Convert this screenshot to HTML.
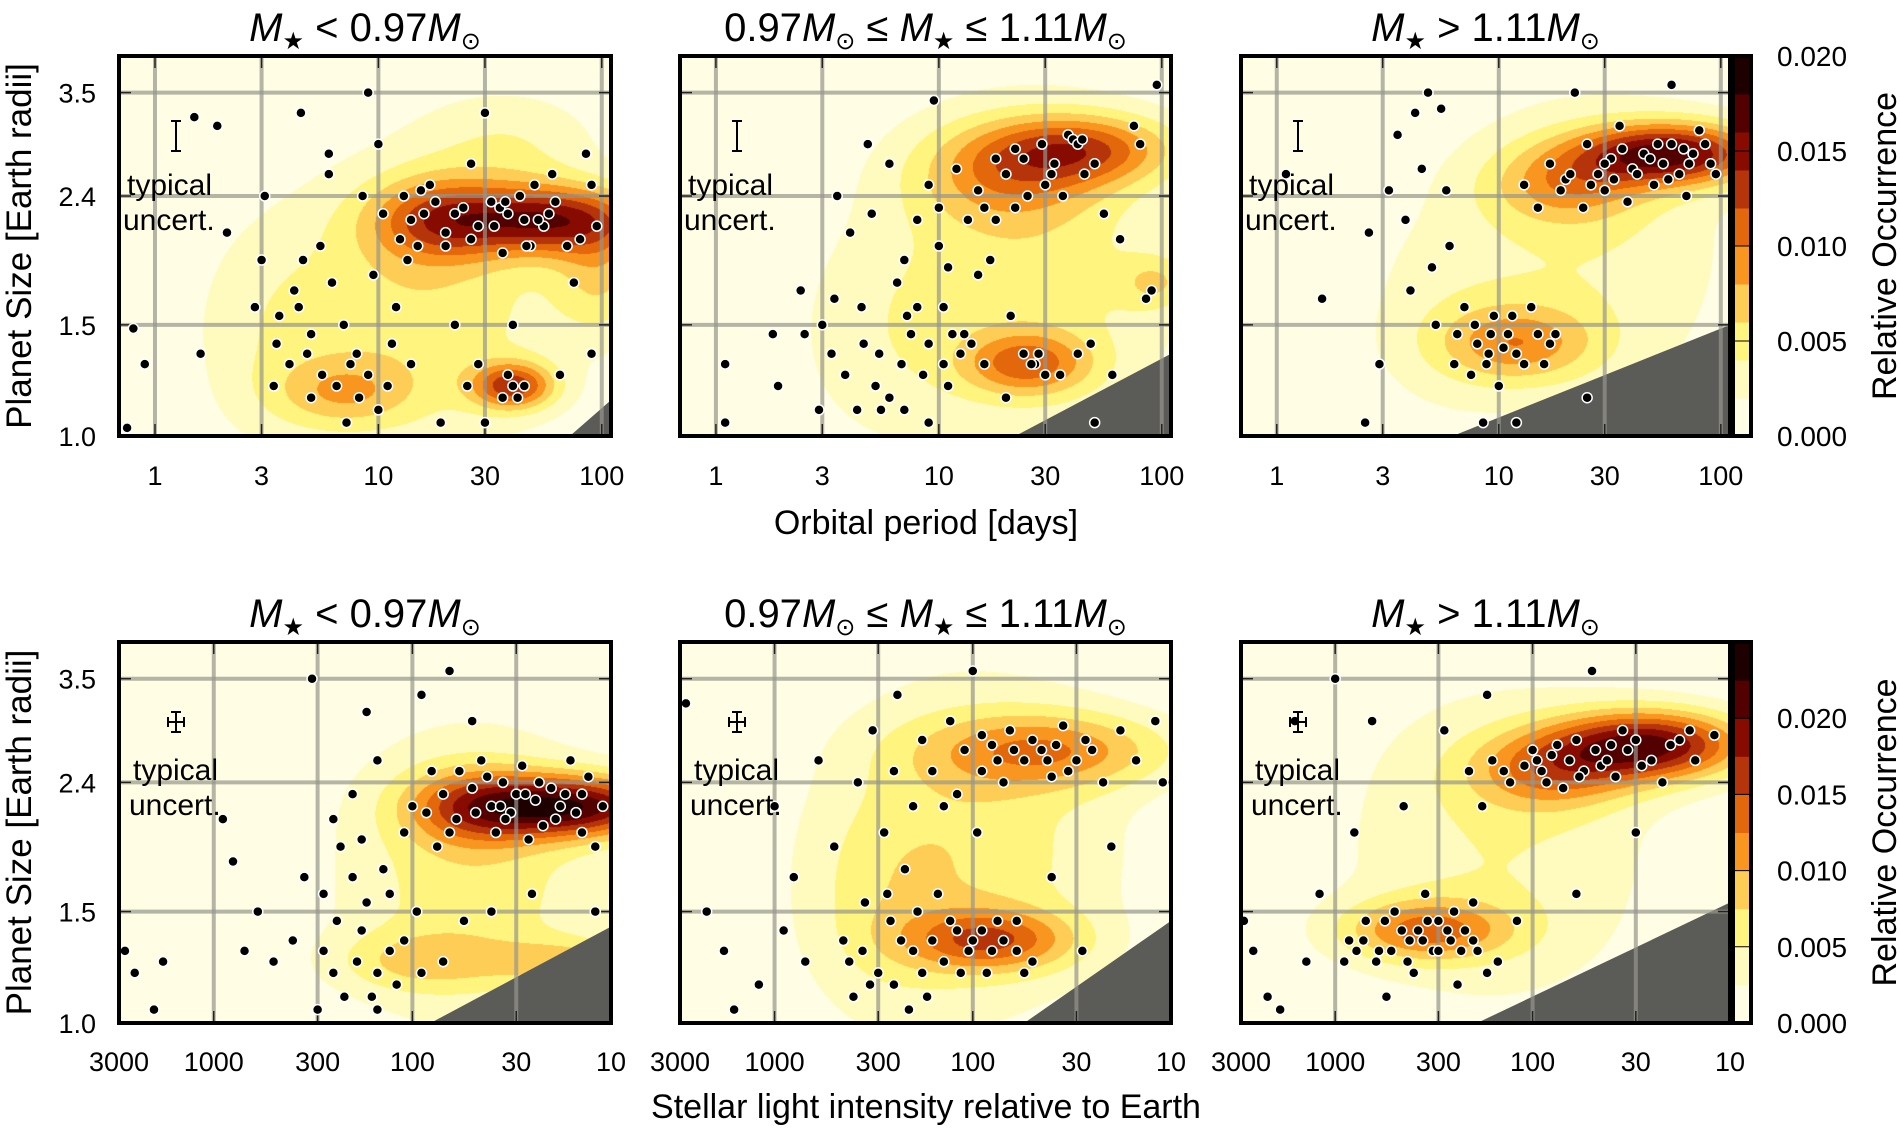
<!DOCTYPE html>
<html><head><meta charset="utf-8"><style>
html,body{margin:0;padding:0;background:#fff;}
#wrap{position:relative;width:1900px;height:1129px;overflow:hidden;}
canvas,svg{position:absolute;left:0;top:0;}
text{font-family:"Liberation Sans",sans-serif;fill:#000;}
</style></head><body>
<div id="wrap">
<canvas id="cv" width="1900" height="1129"></canvas>
<svg id="sv" width="1900" height="1129" xmlns="http://www.w3.org/2000/svg"></svg>
</div>
<script>
// ---- data ----
const periodTicks = [1, 3, 10, 30, 100];
const fluxTicks = [3000, 1000, 300, 100, 30, 10];
const radiusTicks = [1.0, 1.5, 2.4, 3.5];
const radiusTickLabels = ["1.0", "1.5", "2.4", "3.5"];
const cbTicksTop = [0, 0.005, 0.010, 0.015, 0.020];
const cbTicksBottom = [0, 0.005, 0.010, 0.015, 0.020];
const levelColors = ["#fffde4","#fffbbe","#fff47e","#fdcd56","#f8961f","#e3670b","#b6340a","#880b00","#530000","#1e0000"];
const titles = ["low", "mid", "high"];

// density blobs: [x value, radius, amplitude, sigma (decades), sigma (ln R)]
const blobsTL = [[15,1.6,0.0055,0.5,0.38],[60,2.2,0.013,0.3,0.09],[18,2.2,0.008,0.22,0.11],[40,1.2,0.011,0.13,0.06],[7,1.17,0.005,0.22,0.09],[100,1.8,0.005,0.15,0.15],[3,1.4,0.002,0.25,0.3],[40,2.9,0.003,0.3,0.15]];
const blobsTM = [[25,1.8,0.005,0.5,0.45],[45,2.85,0.009,0.3,0.09],[20,2.6,0.006,0.3,0.13],[25,1.3,0.008,0.2,0.08],[95,1.75,0.004,0.12,0.07],[5,1.4,0.002,0.3,0.3]];
const blobsTR = [[25,2.0,0.0038,0.5,0.45],[60,2.8,0.015,0.3,0.08],[20,2.5,0.006,0.25,0.1],[12,1.4,0.007,0.25,0.1],[5,1.5,0.0018,0.3,0.3]];
const blobsBL = [[50,1.7,0.0065,0.5,0.4],[15,2.2,0.019,0.35,0.08],[50,2.2,0.009,0.25,0.1],[15,1.25,0.006,0.3,0.06],[100,1.25,0.005,0.3,0.08]];
const blobsBM = [[100,1.9,0.0065,0.55,0.45],[40,2.7,0.0095,0.45,0.1],[80,1.35,0.011,0.3,0.08],[300,1.5,0.003,0.3,0.3]];
const blobsBR = [[150,1.9,0.005,0.6,0.45],[25,2.75,0.019,0.35,0.09],[80,2.5,0.009,0.3,0.1],[350,1.4,0.011,0.3,0.08]];

// completeness-limit triangle: [x at bottom edge, radius at right edge]
const limitsTop = [[72,1.14],[22,1.35],[6.2,1.5]];
const limitsBottom = [[81,1.42],[55,1.45],[191,1.55]];

// planets [x value, radius]
const ptsTL = [[0.75,1.03],[0.9,1.3],[0.8,1.48],[1.5,3.2],[1.9,3.1],[2.1,2.1],[1.6,1.35],[2.8,1.6],[3.1,2.4],[3.0,1.9],[3.5,1.4],[4.2,1.7],[4.5,3.25],[4.8,1.35],[5.5,2.0],[6,2.8],[6.5,1.2],[7,1.5],[7.2,1.05],[8,1.35],[8.5,2.4],[9,3.5],[9.5,1.8],[10.5,2.25],[10,2.9],[11,1.2],[12,1.6],[13,2.4],[13.5,1.9],[15,2.0],[16,2.25],[17,2.5],[19,1.05],[20,2.1],[22,1.5],[24,2.3],[26,2.7],[28,2.15],[30,3.25],[32,2.35],[35,2.3],[36,1.95],[38,2.25],[40,1.2],[42,1.15],[45,2.2],[48,2.0],[50,2.5],[55,2.15],[60,2.6],[65,1.25],[70,2.0],[75,1.75],[80,2.05],[85,2.8],[90,2.5],[95,2.15],[30,1.05],[40,1.5],[90,1.35],[14,1.3],[5,1.15],[25,1.2],
 [3.6,1.55],[4,1.3],[4.4,1.6],[5,1.45],[5.6,1.25],[6.2,1.75],[7.5,1.3],[8.2,1.15],[9,1.25],[10,1.1],[11.5,1.4],[12.5,2.05],[14,2.2],[15.5,2.45],[18,2.35],[20,2.0],[22,2.25],[26,2.05],[33,2.15],[37,2.35],[43,2.4],[46,2.0],[52,2.2],[58,2.25],[62,2.35],[36,1.15],[45,1.2],[38,1.25],[28,1.3],[6,2.6],[4.6,1.9],[3.4,1.2]];
const ptsTM = [[1.1,1.3],[1.1,1.05],[1.8,1.45],[1.9,1.2],[2.4,1.7],[2.5,1.45],[2.9,1.1],[3,1.5],[3.3,1.35],[3.4,1.65],[3.5,2.4],[4,2.1],[4.3,1.1],[4.5,1.6],[4.8,2.9],[5,2.25],[5.4,1.35],[5.5,1.1],[6,2.7],[6.5,1.75],[7,1.9],[7.5,1.45],[8,2.2],[8.5,1.25],[9,2.5],[9.5,3.4],[10,2.0],[10.5,1.6],[11,1.2],[12,2.65],[13,1.45],[13.5,2.2],[15,2.45],[16,1.3],[17,1.9],[18,2.75],[20,1.15],[21,1.55],[22,2.85],[24,1.35],[25,2.4],[27,1.3],[29,2.9],[30,2.5],[32,2.6],[35,1.25],[38,3.0],[40,2.95],[42,1.35],[45,2.6],[48,1.4],[55,2.25],[60,1.25],[65,2.05],[75,3.1],[80,2.9],[90,1.7],[95,3.6],[85,1.65],[50,1.05],
 [3.8,1.25],[4.6,1.4],[5.2,1.2],[6,1.15],[6.8,1.3],[7.2,1.55],[8,1.6],[9,1.4],[10.5,1.3],[11.5,1.45],[12.5,1.35],[14,1.4],[15,1.8],[16,2.3],[18,2.2],[20,2.6],[22,2.3],[24,2.75],[26,1.3],[28,1.35],[30,1.25],[33,2.7],[36,2.4],[42,2.9],[44,2.95],[50,2.7],[10,2.3],[11,1.85],[9,1.05],[7,1.1]];
const ptsTR = [[1.1,2.6],[1.6,1.65],[2.5,1.05],[2.6,2.1],[2.9,1.3],[3.2,2.45],[3.5,3.0],[3.8,2.2],[4,1.7],[4.2,3.25],[4.5,2.65],[5,1.85],[5.2,1.5],[5.5,3.3],[6,2.0],[6.3,1.3],[6.5,1.45],[7,1.6],[7.5,1.25],[8,1.4],[8.5,1.05],[9,1.35],[9.5,1.55],[10,1.2],[11,1.45],[12,1.35],[13,2.5],[14,1.6],[15,2.3],[16,1.3],[17,2.7],[18,1.45],[20,2.55],[22,3.5],[24,2.3],[25,2.9],[28,2.6],[30,2.45],[32,2.75],[35,3.1],[38,2.35],[40,2.65],[45,2.8],[50,2.5],[55,2.7],[60,2.9],[65,2.6],[70,2.4],[75,2.8],[80,3.05],[90,2.7],[60,3.6],[12,1.05],[25,1.15],
 [7.8,1.5],[8.8,1.3],[9.2,1.45],[10.5,1.38],[11.5,1.55],[13,1.3],[15,1.45],[17,1.4],[19,2.45],[21,2.6],[26,2.5],[30,2.7],[33,2.55],[36,2.85],[42,2.6],[48,2.75],[52,2.9],[58,2.55],[68,2.85],[72,2.7],[85,2.9],[95,2.6],[4.8,3.5],[5.8,2.45]];
const ptsBL = [[2800,1.3],[2500,1.2],[2000,1.05],[1800,1.25],[900,2.1],[800,1.8],[700,1.3],[600,1.5],[500,1.25],[400,1.35],[350,1.7],[320,3.5],[300,1.05],[280,1.6],[250,1.2],[230,1.9],[200,2.3],[180,1.4],[170,3.1],[160,1.1],[150,2.6],[140,1.75],[130,1.3],[120,1.15],[110,2.0],[100,2.2],[95,1.5],[90,3.3],[80,2.5],[75,1.9],[70,1.25],[65,3.6],[60,2.1],[55,1.45],[50,2.35],[45,2.6],[40,2.2],[38,2.0],[35,2.4],[32,2.15],[30,2.3],[28,2.55],[26,1.95],[24,2.25],[22,2.05],[20,2.35],[18,2.2],[16,2.6],[15,2.15],[14,2.0],[13,2.45],[12,1.9],[11,2.2],
 [40,1.5],[25,1.6],[12,1.5],[50,3.0],[150,1.05],[280,1.3],[240,1.45],[220,1.1],[190,1.25],[170,1.55],[150,1.2],[130,1.6],[110,1.35],[90,1.2],[85,2.15],[70,2.3],[65,2.0],[58,2.5],[48,2.15],[42,2.45],[36,2.2],[34,2.1],[27,2.3],[23,2.4],[19,2.1],[17,2.3],[14,2.3],[250,2.1],[200,1.7],[180,1.95]];
const ptsBM = [[2800,3.2],[2200,1.5],[1800,1.3],[1600,1.05],[1200,1.15],[1000,2.2],[900,1.4],[800,1.7],[700,1.25],[600,2.6],[500,1.9],[450,1.35],[400,1.1],[380,2.4],[350,1.55],[320,2.9],[300,1.2],[280,2.0],[260,1.45],[240,3.3],[220,1.75],[200,1.3],[180,2.8],[170,1.1],[160,2.5],[150,1.6],[140,2.2],[130,3.0],[120,1.4],[110,2.7],[100,1.35],[95,2.0],[90,2.5],[85,1.2],[80,2.75],[75,1.45],[70,2.4],[65,2.9],[60,1.3],[55,2.6],[50,1.25],[45,2.7],[40,2.45],[35,2.95],[30,2.6],[28,1.3],[25,2.7],[22,2.4],[18,2.9],[15,2.6],[12,3.0],[11,2.4],[100,3.6],[40,1.7],[20,1.9],
 [420,1.25],[360,1.3],[330,1.15],[270,1.6],[250,1.15],[230,1.35],[210,1.05],[190,1.5],[180,1.2],[160,1.35],[140,1.25],[130,1.45],[115,1.2],[105,1.3],[90,1.4],[80,1.3],[70,1.35],[60,1.45],[55,1.2],[75,2.6],[62,2.7],[50,2.8],[42,2.6],[38,2.75],[33,2.5],[27,2.8],[90,2.85],[120,2.3],[200,2.2],[250,2.5]];
const ptsBR = [[2900,1.45],[2600,1.3],[2200,1.1],[1900,1.05],[1600,3.0],[1400,1.25],[1200,1.6],[1000,3.5],[900,1.25],[850,1.35],[800,2.0],[700,1.45],[650,3.0],[600,1.3],[550,1.1],[500,1.5],[450,2.2],[420,1.35],[400,1.2],[380,1.4],[350,1.6],[320,1.3],[300,1.45],[280,2.9],[260,1.35],[240,1.15],[220,1.4],[210,2.5],[200,1.55],[190,1.3],[180,2.2],[170,3.3],[160,2.6],[150,1.25],[130,2.4],[120,1.45],[110,2.55],[100,2.7],[90,2.5],[80,2.65],[70,2.35],[60,2.8],[55,2.5],[50,3.6],[45,2.55],[40,2.75],[35,2.9],[30,2.8],[25,2.6],[22,2.4],[18,2.8],[15,2.6],[12,2.85],[30,2.0],[60,1.6],
 [780,1.3],[720,1.35],[620,1.25],[560,1.45],[520,1.3],[460,1.4],[430,1.25],[360,1.35],[340,1.45],[300,1.3],[270,1.4],[250,1.5],[230,1.3],[200,1.35],[170,1.2],[140,2.5],[95,2.6],[85,2.4],[75,2.75],[65,2.6],[58,2.45],[48,2.7],[42,2.6],[38,2.45],[33,2.7],[28,2.55],[20,2.75],[16,2.9]];

// ---- layout ----
const NS = "http://www.w3.org/2000/svg";
const svg = document.getElementById('sv');
const ctx = document.getElementById('cv').getContext('2d');
const cols = [[119,611],[680,1171],[1241,1730]];
const rows = [[56,436],[642,1023]];
const Rmax = 4.0;
function mk(tag, attrs, parent){ const e=document.createElementNS(NS,tag); for(const k in attrs) e.setAttribute(k,attrs[k]); (parent||svg).appendChild(e); return e; }
function xfrac(row, v){
  if(row===0){ const a=Math.log10(0.69), b=Math.log10(110); return (Math.log10(v)-a)/(b-a); }
  const a=Math.log10(3000), b=1; return (a-Math.log10(v))/(a-b);
}
function yfrac(r){ return Math.log(r)/Math.log(Rmax); }
function hex(c){ return [parseInt(c.slice(1,3),16),parseInt(c.slice(3,5),16),parseInt(c.slice(5,7),16)]; }
const rgb = levelColors.map(hex);
const blobs = [[blobsTL,blobsTM,blobsTR],[blobsBL,blobsBM,blobsBR]];
const pts = [[ptsTL,ptsTM,ptsTR],[ptsBL,ptsBM,ptsBR]];
const limits = [limitsTop, limitsBottom];
const levelStep = [0.002, 0.0025];
const xTicks = [periodTicks, fluxTicks];

for(let ri=0; ri<2; ri++){
  const [y0,y1] = rows[ri]; const H=y1-y0;
  for(let ci=0; ci<3; ci++){
    const [x0,x1] = cols[ci]; const W=x1-x0;
    const X = v => x0 + xfrac(ri,v)*W;
    const Y = r => y1 - yfrac(r)*H;
    const img = ctx.createImageData(W,H);
    const bl = blobs[ri][ci].map(b=>[Math.log10(b[0]), Math.log(b[1]), b[2], b[3], b[4]]);
    const aX = ri===0?Math.log10(0.69):Math.log10(3000), bX = ri===0?Math.log10(110):1;
    for(let py=0; py<H; py++){
      const lr = (1-(py+0.5)/H)*Math.log(Rmax);
      for(let px=0; px<W; px++){
        const lx = aX + (px+0.5)/W*(bX-aX);
        let d=0;
        for(const b of bl){ const dx=(lx-b[0])/b[3], dy=(lr-b[1])/b[4]; d+=b[2]*Math.exp(-0.5*(dx*dx+dy*dy)); }
        let lv = Math.floor(d/levelStep[ri]); if(lv>9) lv=9; if(lv<0) lv=0;
        const c=rgb[lv]; const i=(py*W+px)*4;
        img.data[i]=c[0]; img.data[i+1]=c[1]; img.data[i+2]=c[2]; img.data[i+3]=255;
      }
    }
    ctx.putImageData(img,x0,y0);
    const g = mk('g',{});
    
    
    const lim = limits[ri][ci];
    const tri = mk('polygon',{points:`${X(lim[0])},${y1} ${x1},${y1} ${x1},${Y(lim[1])}`, fill:'#5b5b57'}, g);
    
    
    xTicks[ri].forEach(t=>{ const x=X(t); if(x<=x0+2||x>=x1-2) return;
      const l=mk('line',{x1:x,x2:x,y1:y0,y2:y1,stroke:'rgba(150,150,140,0.7)','stroke-width':4},g);
       
      mk('line',{x1:x,x2:x,y1:y0,y2:y0+12,stroke:'#222','stroke-width':1.5},g);
      mk('line',{x1:x,x2:x,y1:y1-12,y2:y1,stroke:'#222','stroke-width':1.5},g);
    });
    radiusTicks.forEach(t=>{ const y=Y(t); if(y>=y1-2) return;
      const l=mk('line',{x1:x0,x2:x1,y1:y,y2:y,stroke:'rgba(150,150,140,0.7)','stroke-width':4},g);
       
      mk('line',{x1:x0,x2:x0+12,y1:y,y2:y,stroke:'#222','stroke-width':1.5},g);
      mk('line',{x1:x1-12,x2:x1,y1:y,y2:y,stroke:'#222','stroke-width':1.5},g);
    });
    pts[ri][ci].forEach(p=>{
      const c=mk('circle',{cx:X(p[0]),cy:Y(p[1]),r:5,fill:'#000',stroke:'#fff','stroke-width':1.5},g);
       
    });
    const ex=x0+57, ey=y0+(ri===0?65:70);
    if(ri===0){
      mk('path',{d:`M${ex-5},${ey} h10 M${ex},${ey} v30 M${ex-5},${ey+30} h10`,stroke:'#000','stroke-width':2,fill:'none'},g);
    } else {
      mk('path',{d:`M${ex-5},${ey} h10 M${ex},${ey} v20 M${ex-5},${ey+20} h10 M${ex-8},${ey+10} h16 M${ex-8},${ey+5} v10 M${ex+8},${ey+5} v10`,stroke:'#000','stroke-width':2,fill:'none'},g);
    }
    const tx = x0+(ri===1?14:8);
    const tt=mk('text',{x:tx,y:y0+(ri===0?139:138),'font-size':30},g); tt.textContent='typical';
     
    const tu=mk('text',{x:tx-4,y:y0+(ri===0?174:173),'font-size':30},g); tu.textContent='uncert.';
    const fr=mk('rect',{x:x0,y:y0,width:W,height:H,fill:'none',stroke:'#000','stroke-width':4},g);
     
    xTicks[ri].forEach(t=>{
      const lab=mk('text',{x:X(t),y:ri===0?485:1071,'font-size':27,'text-anchor':'middle'},g);
      lab.textContent=String(t);
       
    });
    if(ci===0){
      radiusTicks.forEach((t,k)=>{
        const lab=mk('text',{x:96,y:Y(t)+10,'font-size':27,'text-anchor':'end'},g);
        lab.textContent=radiusTickLabels[k];
         
      });
    }
    const cx=(x0+x1)/2, ty=y0-15;
    const tl=mk('text',{x:cx,y:ty,'font-size':40,'text-anchor':'middle'},g);
     
    if(ci===0) tl.innerHTML='<tspan font-style="italic">M</tspan><tspan font-size="24" dy="8">★</tspan><tspan dy="-8"> &lt; 0.97</tspan><tspan font-style="italic">M</tspan><tspan font-size="24" dy="8">⊙</tspan>';
    else if(ci===1) tl.innerHTML='<tspan>0.97</tspan><tspan font-style="italic">M</tspan><tspan font-size="24" dy="8">⊙</tspan><tspan dy="-8"> ≤ </tspan><tspan font-style="italic">M</tspan><tspan font-size="24" dy="8">★</tspan><tspan dy="-8"> ≤ 1.11</tspan><tspan font-style="italic">M</tspan><tspan font-size="24" dy="8">⊙</tspan>';
    else tl.innerHTML='<tspan font-style="italic">M</tspan><tspan font-size="24" dy="8">★</tspan><tspan dy="-8"> &gt; 1.11</tspan><tspan font-style="italic">M</tspan><tspan font-size="24" dy="8">⊙</tspan>';
  }
  const cbx=1733, cbw=18;
  const cb=mk('g',{});
  
  
  const cbMax = levelStep[ri]*10;
  for(let k=0;k<10;k++){
    const yb=y1-(k/10)*H, yt=y1-((k+1)/10)*H;
    mk('rect',{x:cbx,y:yt,width:cbw,height:yb-yt+0.5,fill:levelColors[k]},cb);
  }
  mk('rect',{x:cbx,y:y0,width:cbw,height:H,fill:'none',stroke:'#000','stroke-width':4},cb);
  const ticks = ri===0?cbTicksTop:cbTicksBottom;
  ticks.forEach(t=>{
    const y=y1-(t/cbMax)*H;
    mk('line',{x1:cbx,x2:cbx+cbw,y1:y,y2:y,stroke:'#000','stroke-width':1},cb);
    const lab=mk('text',{x:1777,y:y+10,'font-size':28},cb);
    lab.textContent=t.toFixed(3);
     
  });
  const ct=mk('text',{x:0,y:0,'font-size':34,'text-anchor':'middle',transform:`translate(1896,${(y0+y1)/2}) rotate(-90)`},cb);
  ct.textContent='Relative Occurrence';
   
  const yt=mk('text',{x:0,y:0,'font-size':35,'text-anchor':'middle',transform:`translate(31,${(y0+y1)/2}) rotate(-90)`});
  yt.textContent='Planet Size [Earth radii]';
   
}
const xt1=mk('text',{x:926,y:534,'font-size':34,'text-anchor':'middle'});
xt1.textContent='Orbital period [days]';
 
const xt2=mk('text',{x:926,y:1118,'font-size':34,'text-anchor':'middle'});
xt2.textContent='Stellar light intensity relative to Earth';
 
</script>
</body></html>
